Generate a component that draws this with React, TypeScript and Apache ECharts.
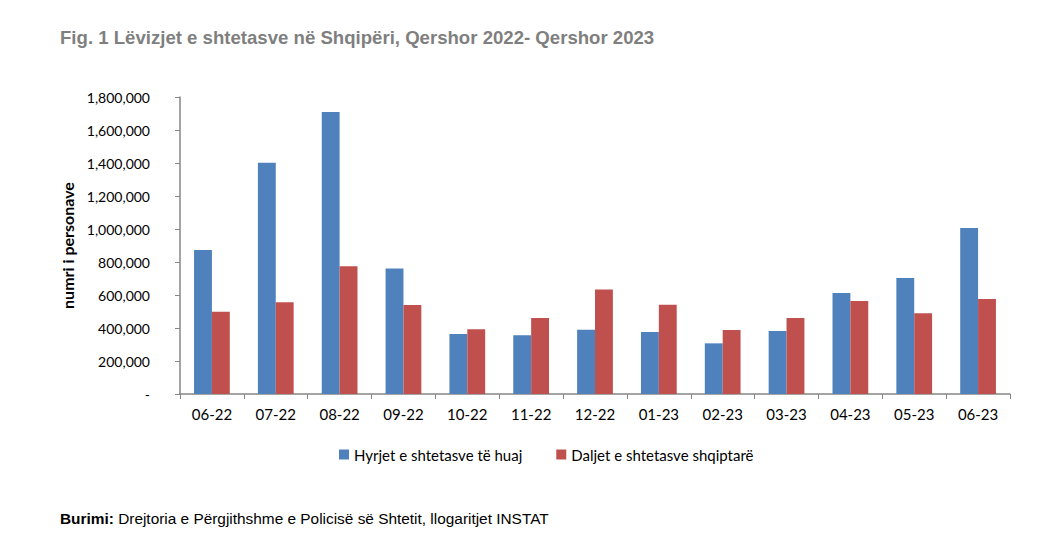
import React, { useEffect, useRef } from "react";
import * as echarts from "echarts";

const categories = ["06-22", "07-22", "08-22", "09-22", "10-22", "11-22", "12-22", "01-23", "02-23", "03-23", "04-23", "05-23", "06-23"];
const hyrjet = [873000, 1402000, 1709000, 760000, 364000, 356000, 390000, 376000, 307000, 382000, 612000, 703000, 1006000];
const daljet = [499000, 556000, 774000, 539000, 392000, 461000, 634000, 541000, 388000, 461000, 564000, 489000, 576000];
const seriesNames = ["Hyrjet e shtetasve të huaj", "Daljet e shtetasve shqiptarë"];
const titleText = "Fig. 1 Lëvizjet e shtetasve në Shqipëri, Qershor 2022- Qershor 2023";
const yAxisName = "numri i personave";

export default function App() {
  const ref = useRef<HTMLDivElement>(null);
  useEffect(() => {
    const chart = echarts.init(ref.current!, null, { renderer: "svg" });
    const labelFont = "Lato, 'Open Sans', sans-serif";
    chart.setOption({
      animation: false,
      backgroundColor: "#ffffff",
      title: {
        text: titleText,
        left: 47,
        top: 15,
        textStyle: { fontFamily: "'Liberation Sans', Arial, sans-serif", fontWeight: "bold", fontSize: 18.6, color: "#7f7f7f" },
      },
      grid: { left: 172, right: 30, top: 89, bottom: 148, containLabel: false },
      legend: {
        data: seriesNames,
        left: 326,
        top: 434,
        itemWidth: 10,
        itemHeight: 10,
        itemGap: 34,
        icon: "rect",
        textStyle: { fontFamily: labelFont, fontSize: 15, color: "#000" },
      },
      xAxis: {
        type: "category",
        data: categories,
        axisLine: { lineStyle: { color: "#868686", width: 1.5 } },
        axisTick: { show: true, length: 5, lineStyle: { color: "#868686" } },
        axisLabel: { color: "#000", fontFamily: labelFont, fontSize: 15, margin: 12 },
      },
      yAxis: {
        type: "value",
        min: 0,
        max: 1800000,
        interval: 200000,
        name: yAxisName,
        nameLocation: "middle",
        nameGap: 103,
        nameTextStyle: { fontFamily: labelFont, fontSize: 16, fontWeight: "bold", color: "#000" },
        axisLine: { show: true, lineStyle: { color: "#868686", width: 1.5 } },
        axisTick: { show: true, length: 5, lineStyle: { color: "#868686" } },
        splitLine: { show: false },
        axisLabel: {
          color: "#000",
          fontFamily: labelFont,
          fontSize: 14,
          margin: 30,
          formatter: (v: number) => (v === 0 ? "-" : v.toLocaleString("en-US")),
        },
      },
      series: [
        {
          name: seriesNames[0],
          type: "bar",
          data: hyrjet,
          itemStyle: { color: "#4F81BD" },
          barGap: "0%",
          barCategoryGap: "44%",
        },
        {
          name: seriesNames[1],
          type: "bar",
          data: daljet,
          itemStyle: { color: "#C0504D" },
          barGap: "0%",
          barCategoryGap: "44%",
        },
      ],
      graphic: [
        {
          type: "text",
          left: 52,
          top: 503,
          style: {
            text: "{b|Burimi:} Drejtoria e Përgjithshme e Policisë së Shtetit, llogaritjet INSTAT",
            rich: {
              b: { fontFamily: "'Liberation Sans', Arial, sans-serif", fontWeight: "bold", fontSize: 15.4, fill: "#000" },
            },
            fontFamily: "'Liberation Sans', Arial, sans-serif",
            fontSize: 15.4,
            fill: "#000",
          },
        },
      ],
    });
    return () => chart.dispose();
  }, []);
  return <div ref={ref} style={{ width: 1032, height: 534 }} />;
}
